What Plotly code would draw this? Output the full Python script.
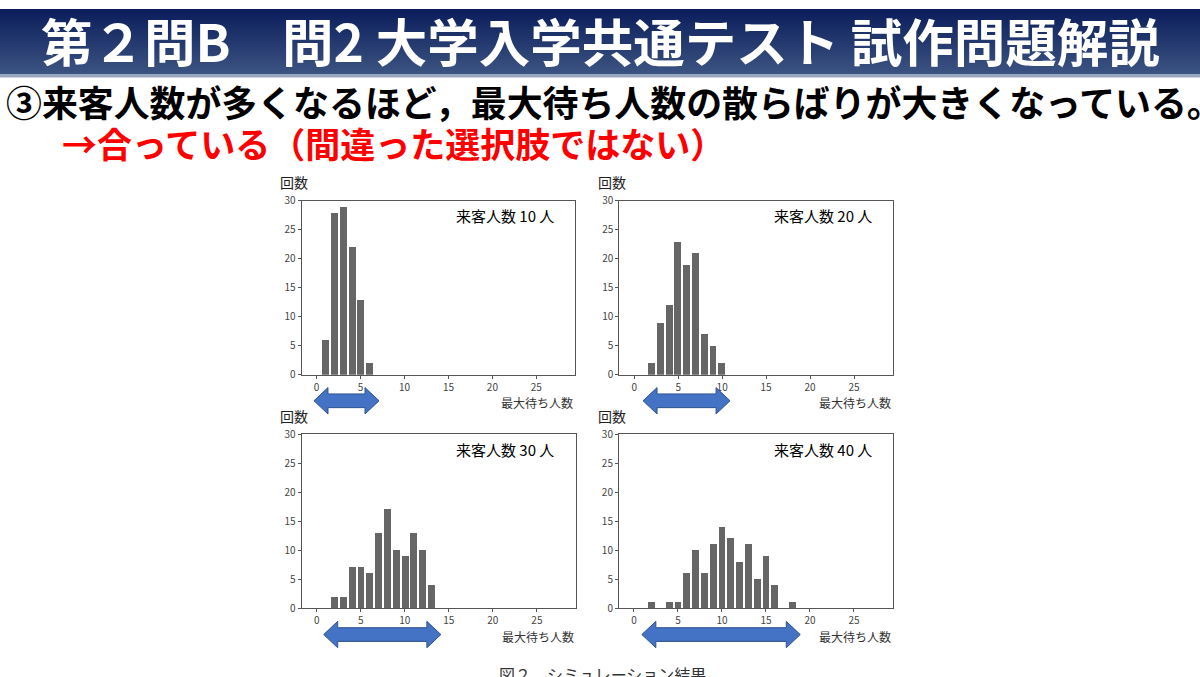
import plotly.graph_objects as go

# Data (x = max waiting people, y = count)
x_10 = [1, 2, 3, 4, 5, 6]
y_10 = [6, 28, 29, 22, 13, 2]

x_20 = [2, 3, 4, 5, 6, 7, 8, 9, 10]
y_20 = [2, 9, 12, 23, 19, 21, 7, 5, 2]

x_30 = [2, 3, 4, 5, 6, 7, 8, 9, 10, 11, 12, 13]
y_30 = [2, 2, 7, 7, 6, 13, 17, 10, 9, 13, 10, 4]

x_40 = [2, 4, 5, 6, 7, 8, 9, 10, 11, 12, 13, 14, 15, 16, 18]
y_40 = [1, 1, 1, 6, 10, 6, 11, 14, 12, 8, 11, 5, 9, 4, 1]

panel_labels = ["来客人数 10 人", "来客人数 20 人", "来客人数 30 人", "来客人数 40 人"]
x_ticks = [0, 5, 10, 15, 20, 25]
y_ticks = [0, 5, 10, 15, 20, 25, 30]

# spread arrows under each panel (start, end on the x scale)
arrow_spans = [(-0.3, 7.1), (1.0, 10.9), (0.8, 14.1), (0.9, 18.9)]

title_text = "第２問B　問2 大学入学共通テスト 試作問題解説"
line1_text = "③来客人数が多くなるほど，最大待ち人数の散らばりが大きくなっている。"
line2_text = "→合っている（間違った選択肢ではない）"
caption_text = "図２　シミュレーション結果"

W, H = 1200, 677
FONT = "Noto Sans CJK JP"
X_RANGE = [-1.7, 29.4]

# panel domains in paper coords (x0, x1, y0, y1)
domains = [
    (0.2514, 0.4792, 0.4476, 0.7105),
    (0.5161, 0.7439, 0.4476, 0.7105),
    (0.2514, 0.4797, 0.0945, 0.3575),
    (0.5158, 0.7439, 0.0945, 0.3575),
]

fig = go.Figure()

series = [(x_10, y_10), (x_20, y_20), (x_30, y_30), (x_40, y_40)]
for i, (xs, ys) in enumerate(series):
    n = "" if i == 0 else str(i + 1)
    fig.add_trace(go.Bar(
        x=xs, y=ys, width=0.78,
        marker=dict(color="#666666", line=dict(width=0)),
        xaxis="x" + n, yaxis="y" + n,
        showlegend=False, hoverinfo="x+y",
    ))

axes = {}
for i, (dx0, dx1, dy0, dy1) in enumerate(domains):
    n = "" if i == 0 else str(i + 1)
    axes["xaxis" + n] = dict(
        domain=[dx0, dx1], range=X_RANGE, anchor="y" + n,
        tickvals=x_ticks, ticks="outside", ticklen=3, tickcolor="#555",
        tickfont=dict(family=FONT, size=10, color="#444"),
        showgrid=False, zeroline=False, showline=True, linecolor="#555",
        linewidth=1, mirror=True,
    )
    axes["yaxis" + n] = dict(
        domain=[dy0, dy1], range=[0, 30], anchor="x" + n,
        tickvals=y_ticks, ticks="outside", ticklen=3, tickcolor="#555",
        tickfont=dict(family=FONT, size=10, color="#444"),
        showgrid=False, zeroline=False, showline=True, linecolor="#555",
        linewidth=1, mirror=True,
    )

annotations = []
shapes = []

# header gradient band (strips overlap a little so no seams show)
n_strips = 34
top_c, bot_c = (12, 30, 92), (60, 84, 130)
band_h = 67
step = band_h / n_strips
for k in range(n_strips):
    t = k / (n_strips - 1)
    c = tuple(int(top_c[j] + (bot_c[j] - top_c[j]) * t) for j in range(3))
    shapes.append(dict(
        type="rect", xref="paper", yref="paper", layer="below",
        x0=0, x1=1, y0=1 - min((k + 1) * step + 1.5, band_h) / H, y1=1 - k * step / H,
        fillcolor="rgb(%d,%d,%d)" % c, line=dict(width=0),
    ))
shapes.append(dict(
    type="rect", xref="paper", yref="paper", layer="below",
    x0=0, x1=1, y0=1 - 70 / H, y1=1 - band_h / H,
    fillcolor="#9aa6bd", line=dict(width=0),
))

annotations.append(dict(
    text="<b>" + title_text + "</b>", xref="paper", yref="paper",
    x=0.5, y=1 - 31 / H, xanchor="center", yanchor="middle", showarrow=False,
    font=dict(family=FONT, size=51.5, color="white"),
))
annotations.append(dict(
    text="<b>" + line1_text + "</b>", xref="paper", yref="paper",
    x=4 / W, y=1 - 94 / H, xanchor="left", yanchor="middle", showarrow=False,
    font=dict(family=FONT, size=35.9, color="black"),
))
annotations.append(dict(
    text="<b>" + line2_text + "</b>", xref="paper", yref="paper",
    x=60 / W, y=1 - 137 / H, xanchor="left", yanchor="middle", showarrow=False,
    font=dict(family=FONT, size=35, color="#ff0000"),
))
annotations.append(dict(
    text=caption_text, xref="paper", yref="paper",
    x=497 / W, y=1 - 680 / H, xanchor="left", yanchor="middle", showarrow=False,
    font=dict(family=FONT, size=16, color="#333"),
))

for i, (dx0, dx1, dy0, dy1) in enumerate(domains):
    n = "" if i == 0 else str(i + 1)
    annotations.append(dict(
        text=panel_labels[i], xref="x%s domain" % n, yref="y%s domain" % n,
        x=0.93, y=0.915, xanchor="right", yanchor="middle", showarrow=False,
        font=dict(family=FONT, size=15, color="black"),
    ))
    annotations.append(dict(
        text="回数", xref="x%s domain" % n, yref="y%s domain" % n,
        x=-0.085, y=1.105, xanchor="left", yanchor="middle", showarrow=False,
        font=dict(family=FONT, size=14, color="#222"),
    ))
    annotations.append(dict(
        text="最大待ち人数", xref="x%s domain" % n, yref="y%s domain" % n,
        x=1.0, y=-0.16, xanchor="right", yanchor="middle", showarrow=False,
        font=dict(family=FONT, size=12, color="#333"),
    ))

    # block double arrow under the axis, built in paper coords
    a0, a1 = arrow_spans[i]
    px = lambda v: dx0 + (v - X_RANGE[0]) / (X_RANGE[1] - X_RANGE[0]) * (dx1 - dx0)
    xl, xr = px(a0), px(a1)
    yc = dy0 - 0.15 * (dy1 - dy0)
    head = 14 / W
    hh, sh = 13.5 / H, 7 / H
    pts = [
        (xl, yc), (xl + head, yc + hh), (xl + head, yc + sh),
        (xr - head, yc + sh), (xr - head, yc + hh), (xr, yc),
        (xr - head, yc - hh), (xr - head, yc - sh), (xl + head, yc - sh),
        (xl + head, yc - hh),
    ]
    path = "M " + " L ".join("%.5f,%.5f" % p for p in pts) + " Z"
    shapes.append(dict(
        type="path", xref="paper", yref="paper", path=path,
        fillcolor="#4472c4", line=dict(color="#2f528f", width=1),
    ))

fig.update_layout(
    width=W, height=H,
    margin=dict(l=0, r=0, t=0, b=0),
    paper_bgcolor="white", plot_bgcolor="white",
    annotations=annotations, shapes=shapes,
    bargap=0,
    **axes,
)

# drop the page's default body margin so the figure sits at the window corner
fig.write_html("out.html", config={"displayModeBar": False},
               post_script="document.body.style.margin='0';")
